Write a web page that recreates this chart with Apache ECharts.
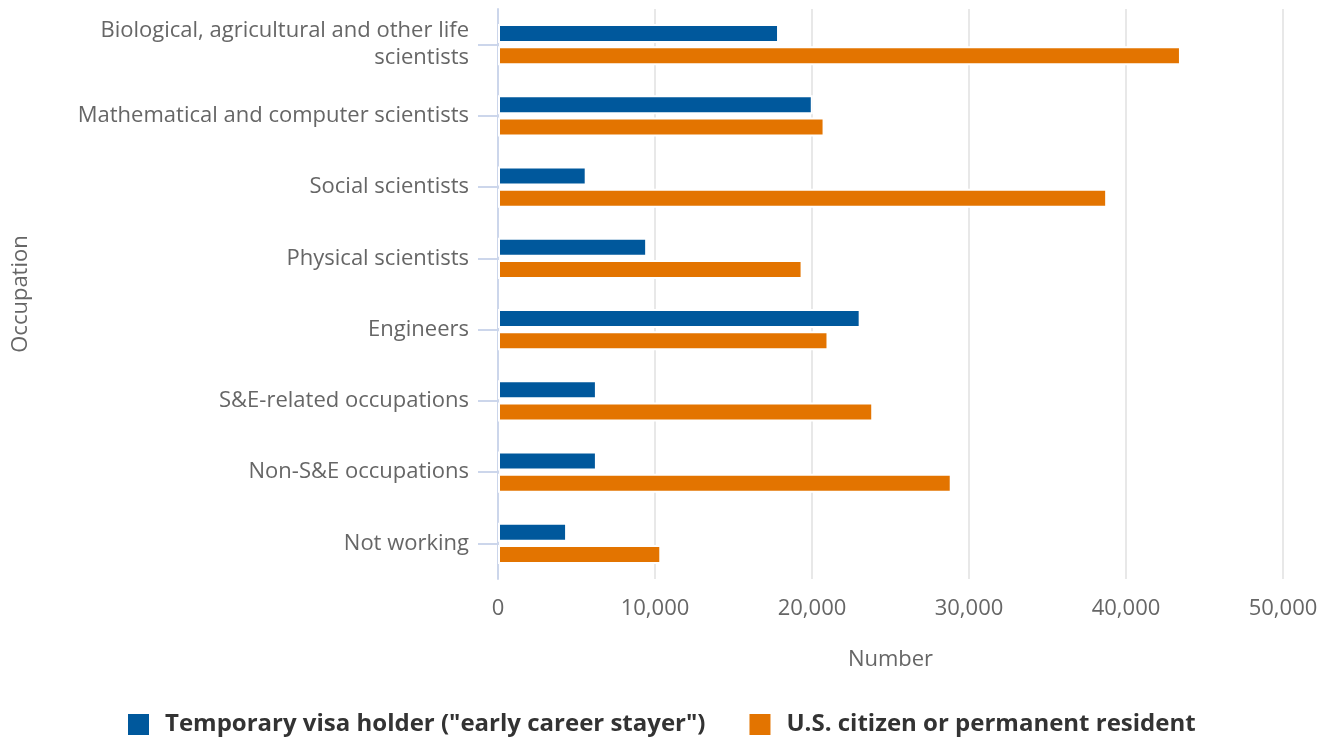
<!DOCTYPE html>
<html>
<head>
<meta charset="utf-8">
<script src="https://cdn.jsdelivr.net/npm/echarts@6/dist/echarts.min.js"></script>
<style>
  html, body { margin: 0; padding: 0; background: #fff; }
  #chart { width: 1333px; height: 743px; }
</style>
</head>
<body>
<div id="chart"></div>
<script>
const categories = [
  'Biological, agricultural and other life\nscientists',
  'Mathematical and computer scientists',
  'Social scientists',
  'Physical scientists',
  'Engineers',
  'S&E-related occupations',
  'Non-S&E occupations',
  'Not working'
]
const visaHolders = [17900, 20050, 5650, 9500, 23100, 6300, 6300, 4400]
const citizens = [43500, 20800, 38800, 19400, 21050, 23900, 28900, 10400]
const xTicks = [0, 10000, 20000, 30000, 40000, 50000]

const chart = echarts.init(document.getElementById('chart'))
const font = '"Open Sans", sans-serif'

const option = {
  backgroundColor: '#fff',
  textStyle: { fontFamily: font },
  grid: { left: 498, right: 50, top: 9, bottom: 164 },
  legend: {
    bottom: 1,
    left: 121,
    itemWidth: 23,
    itemHeight: 23,
    itemGap: 42,
    icon: 'rect',
    textStyle: {
      fontFamily: font,
      fontSize: 24,
      fontWeight: 'bold',
      color: '#333',
      padding: [0, 0, 0, 10]
    }
  },
  xAxis: {
    type: 'value',
    min: xTicks[0],
    max: xTicks[xTicks.length - 1],
    interval: xTicks[1] - xTicks[0],
    name: 'Number',
    nameLocation: 'middle',
    nameGap: 70,
    nameTextStyle: { fontSize: 22, color: '#666', fontFamily: font },
    axisLine: { show: false },
    axisTick: { show: false },
    axisLabel: {
      fontSize: 22,
      color: '#666',
      margin: 19,
      formatter: v => v.toLocaleString('en-US')
    },
    splitLine: { lineStyle: { color: '#e0e0e0', width: 1.5 } }
  },
  yAxis: {
    type: 'category',
    inverse: true,
    data: categories,
    name: 'Occupation',
    nameLocation: 'middle',
    nameGap: 466,
    nameTextStyle: { fontSize: 22, color: '#666', fontFamily: font },
    axisLine: { show: true, lineStyle: { color: '#ccd6eb', width: 2 } },
    axisTick: { show: true, alignWithLabel: true, length: 20, lineStyle: { color: '#ccd6eb', width: 2 } },
    axisLabel: { fontSize: 22, color: '#666', margin: 29, lineHeight: 27, align: 'right' }
  },
  series: [
    {
      name: 'Temporary visa holder ("early career stayer")',
      type: 'bar',
      data: visaHolders,
      barWidth: 19,
      barGap: '18%',
      itemStyle: { color: '#00589c', borderColor: '#fff', borderWidth: 2 }
    },
    {
      name: 'U.S. citizen or permanent resident',
      type: 'bar',
      data: citizens,
      barWidth: 19,
      itemStyle: { color: '#e37400', borderColor: '#fff', borderWidth: 2 }
    }
  ]
}

chart.setOption(option)
</script>
</body>
</html>
